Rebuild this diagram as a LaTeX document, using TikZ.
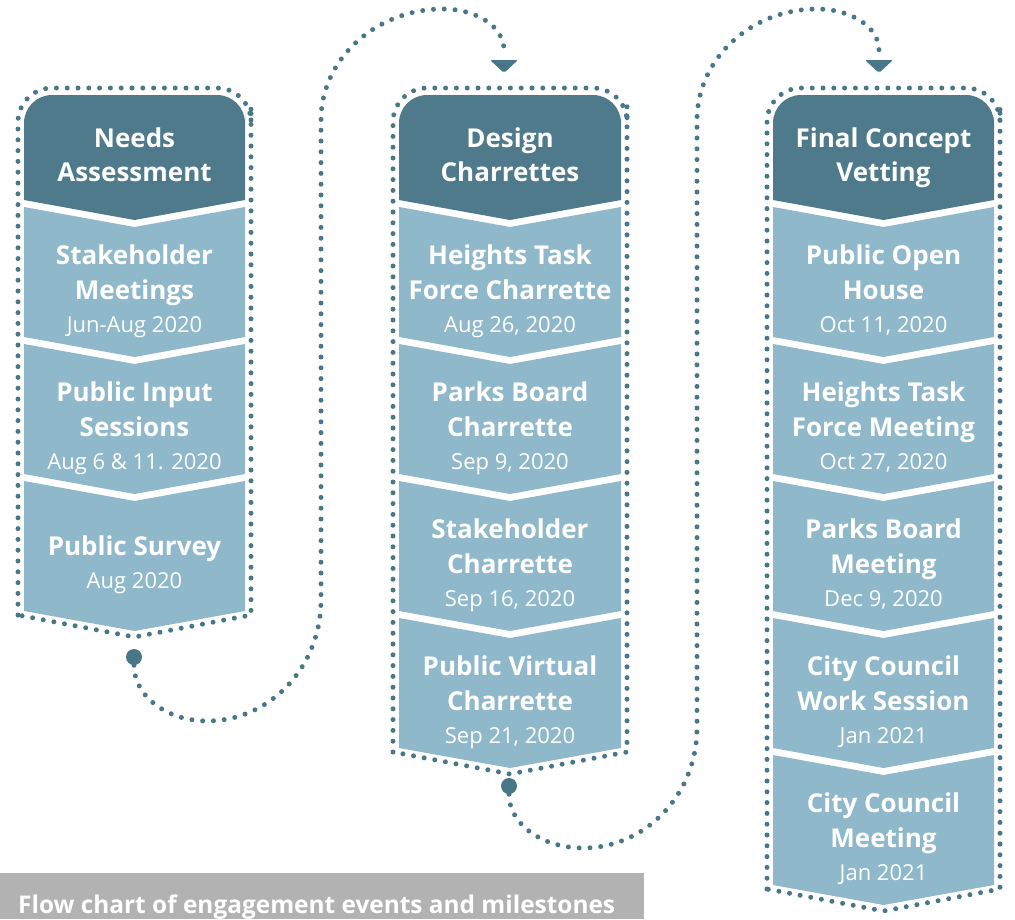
\documentclass[tikz,border=0pt]{standalone}
\usepackage{fontspec}
\setmainfont{Open Sans}
\usetikzlibrary{calc}
\definecolor{hdr}{HTML}{4E7A8B}
\definecolor{sec}{HTML}{8FB8CA}
\definecolor{dotc}{HTML}{4A7788}
\definecolor{capg}{HTML}{B2B2B2}
\newcommand{\secbox}[3]{%
  \fill[sec] (#1,#3) -- ({(#1+#2)/2},#3+20) -- (#2,#3) -- (#2,#3+130) -- ({(#1+#2)/2},#3+150) -- (#1,#3+130) -- cycle;}
\newcommand{\hdrbox}[2]{%
  \fill[hdr] (#1,200) [rounded corners=28pt] -- (#1,95) -- (#2,95) -- (#2,140) [sharp corners] -- (#2,200) -- ({(#1+#2)/2},220) -- cycle;}
\newcommand{\outline}[3]{%
  \draw[dotline] (#1-6,#3+4) [rounded corners=34pt] -- (#1-6,88) -- (#2+6,88) -- (#2+6,140) [sharp corners] -- (#2+6,#3+4) -- ({(#1+#2)/2},#3+26) -- cycle;}
\begin{document}
\begin{tikzpicture}[x=1pt,y=-1pt,
  dotline/.style={draw=dotc,line width=5pt,line cap=round,dash pattern=on 0pt off 10.8pt},
  ttl/.style={text=white,font=\bfseries\fontsize{26}{35}\selectfont,align=center,anchor=base,inner sep=0pt},
  hdrttl/.style={ttl,font=\bfseries\fontsize{26}{34}\selectfont},
  dte/.style={text=white,font=\fontsize{22}{24}\selectfont,anchor=base,inner sep=0pt},
  bigdot/.style={circle,fill=dotc,minimum size=16pt,inner sep=0pt},
  tip/.style={fill=dotc,rounded corners=2pt}]
\useasboundingbox (0,0) rectangle (1015,919);
% column 1
\hdrbox{24}{245}
\secbox{24}{245}{207}
\secbox{24}{245}{344}
\secbox{24}{245}{481}
\outline{24}{245}{611}
% column 2
\hdrbox{399}{621}
\secbox{399}{621}{207}
\secbox{399}{621}{344}
\secbox{399}{621}{481}
\secbox{399}{621}{618}
\outline{399}{621}{748}
% column 3
\hdrbox{773}{994}
\secbox{773}{994}{207}
\secbox{773}{994}{344}
\secbox{773}{994}{481}
\secbox{773}{994}{618}
\secbox{773}{994}{755}
\outline{773}{994}{885}
% texts column 1
\node[hdrttl] (h1) at (134.5,181) {Needs\\Assessment};
\node[ttl] (t11) at (134.5,299) {Stakeholder\\Meetings};
\node[dte] (d11) at (134.5,332) {Jun-Aug 2020};
\node[ttl] (t12) at (134.5,436) {Public Input\\Sessions};
\node[dte] (d12) at (134.5,469) {Aug 6 \& 11. 2020};
\node[ttl] (t13) at (134.5,555) {Public Survey};
\node[dte] (d13) at (134.5,588) {Aug 2020};
% texts column 2
\node[hdrttl] (h2) at (510,181) {Design\\Charrettes};
\node[ttl] (t21) at (510,299) {Heights Task\\Force Charrette};
\node[dte] (d21) at (510,332) {Aug 26, 2020};
\node[ttl] (t22) at (510,436) {Parks Board\\Charrette};
\node[dte] (d22) at (510,469) {Sep 9, 2020};
\node[ttl] (t23) at (510,573) {Stakeholder\\Charrette};
\node[dte] (d23) at (510,606) {Sep 16, 2020};
\node[ttl] (t24) at (510,710) {Public Virtual\\Charrette};
\node[dte] (d24) at (510,743) {Sep 21, 2020};
% texts column 3
\node[hdrttl] (h3) at (883.5,181) {Final Concept\\Vetting};
\node[ttl] (t31) at (883.5,299) {Public Open\\House};
\node[dte] (d31) at (883.5,332) {Oct 11, 2020};
\node[ttl] (t32) at (883.5,436) {Heights Task\\Force Meeting};
\node[dte] (d32) at (883.5,469) {Oct 27, 2020};
\node[ttl] (t33) at (883.5,573) {Parks Board\\Meeting};
\node[dte] (d33) at (883.5,606) {Dec 9, 2020};
\node[ttl] (t34) at (883.5,710) {City Council\\Work Session};
\node[dte] (d34) at (883.5,743) {Jan 2021};
\node[ttl] (t35) at (883.5,847) {City Council\\Meeting};
\node[dte] (d35) at (883.5,880) {Jan 2021};
% connectors
\node[bigdot] (dot1) at (134,657) {};
\node[bigdot] (dot2) at (509,786) {};
\coordinate (a1) at (504,50);
\coordinate (a2) at (879,50);
\draw[dotline] (dot1.south) .. controls (134,696) and (167,721) .. (207,721)
  .. controls (270,721) and (321,667) .. (321,600) -- (321,120)
  .. controls (321,59) and (376,9) .. (443,9)
  .. controls (477,9) and (504,27) .. (a1);
\draw[dotline] (dot2.south) .. controls (509,824) and (542,848) .. (583,848)
  .. controls (646,848) and (697,794) .. (697,728) -- (697,120)
  .. controls (697,59) and (751,9) .. (817,9)
  .. controls (851,9) and (879,27) .. (a2);
\fill[tip] ($(a1)+(-14,10)$) -- ($(a1)+(14,10)$) -- ($(a1)+(0,23)$) -- cycle;
\fill[tip] ($(a2)+(-14,10)$) -- ($(a2)+(14,10)$) -- ($(a2)+(0,23)$) -- cycle;
% caption
\fill[capg] (0,873) rectangle (644,919);
\node[text=white,font=\bfseries\fontsize{24.4}{26}\selectfont,anchor=base west,inner sep=0pt] (cap) at (18,913) {Flow chart of engagement events and milestones};
\end{tikzpicture}
\end{document}
